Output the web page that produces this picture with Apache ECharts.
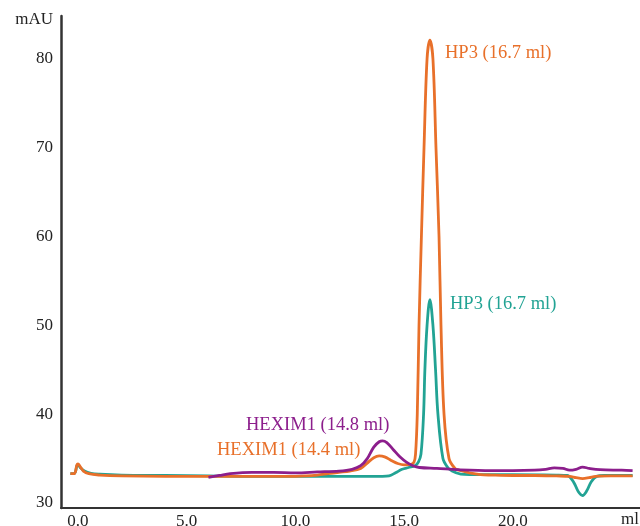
<!DOCTYPE html>
<html>
<head>
<meta charset="utf-8">
<script src="https://cdn.jsdelivr.net/npm/echarts@6/dist/echarts.min.js"></script>
<style>
  html, body { margin: 0; padding: 0; background: #fff; }
  #chart { width: 640px; height: 526px; }
</style>
</head>
<body>
<div id="chart"></div>
<script>
// Elution volume (ml) and absorbance (mAU) for each run
var tealVol = [-0.35, -0.2, -0.12, -0.05, 0.0, 0.1, 0.3, 0.6, 1.0, 2.0, 4.0, 6.0, 8.0, 10.0, 12.0, 14.0, 14.3, 14.6, 14.9, 15.2, 15.5, 15.65, 15.77, 15.89, 15.95, 16.05, 16.18, 16.32, 16.44, 16.55, 16.78, 17.0, 17.2, 17.6, 18.0, 20.0, 22.0, 22.5, 22.8, 23.0, 23.2, 23.4, 23.6, 23.85, 24.2, 25.5];
var tealAbs = [33.3, 33.3, 33.5, 34.2, 34.3, 34.0, 33.6, 33.35, 33.25, 33.15, 33.1, 33.05, 33.0, 33.0, 33.0, 33.0, 33.05, 33.4, 33.8, 34.0, 34.2, 34.6, 35.5, 40.0, 45.0, 50.0, 52.9, 50.0, 45.0, 40.0, 35.0, 34.0, 33.6, 33.25, 33.2, 33.2, 33.15, 33.1, 32.3, 31.3, 30.85, 31.4, 32.4, 33.0, 33.1, 33.1];

var orangeVol = [-0.35, -0.2, -0.12, -0.05, 0.0, 0.1, 0.25, 0.5, 1.0, 2.0, 4.0, 6.0, 8.0, 10.0, 10.5, 11.0, 11.5, 12.0, 12.5, 13.0, 13.3, 13.6, 13.85, 14.1, 14.4, 14.7, 15.0, 15.3, 15.45, 15.52, 15.6, 15.68, 15.79, 15.91, 16.05, 16.18, 16.32, 16.46, 16.6, 16.69, 16.83, 17.06, 17.33, 17.5, 17.7, 18.0, 18.5, 19.0, 20.0, 21.0, 22.0, 22.6, 22.9, 23.2, 23.5, 23.8, 24.5, 25.5];
var orangeAbs = [33.3, 33.3, 33.5, 34.3, 34.4, 34.1, 33.6, 33.3, 33.15, 33.05, 33.0, 33.0, 33.0, 33.0, 33.05, 33.15, 33.3, 33.45, 33.6, 33.9, 34.5, 35.1, 35.3, 35.2, 34.8, 34.45, 34.3, 34.35, 34.6, 35.5, 40.0, 50.0, 60.0, 70.0, 80.0, 82.1, 80.0, 70.0, 60.0, 50.0, 40.0, 35.0, 33.9, 33.7, 33.6, 33.4, 33.2, 33.15, 33.1, 33.1, 33.05, 33.0, 32.85, 32.75, 32.85, 33.0, 33.05, 33.05];

var purpleVol = [6.0, 6.5, 7.0, 8.0, 9.0, 10.0, 11.0, 12.0, 12.6, 13.0, 13.3, 13.6, 13.85, 14.0, 14.2, 14.5, 14.8, 15.1, 15.4, 15.7, 16.5, 17.5, 19.0, 20.0, 21.0, 21.5, 21.9, 22.3, 22.6, 22.9, 23.2, 23.5, 24.0, 25.0, 25.5];
var purpleAbs = [32.9, 33.1, 33.3, 33.45, 33.45, 33.4, 33.5, 33.6, 33.8, 34.2, 35.0, 36.3, 36.9, 37.0, 36.8, 36.0, 35.2, 34.6, 34.2, 34.0, 33.9, 33.75, 33.65, 33.65, 33.7, 33.8, 33.95, 33.9, 33.7, 33.8, 34.05, 33.9, 33.75, 33.7, 33.65];

var yTicks = [30, 40, 50, 60, 70, 80];
var xTicks = [0, 5, 10, 15, 20];

var TEAL = '#22a394';
var ORANGE = '#e8702a';
var PURPLE = '#8c1e8c';
var FONT = '"Liberation Serif", "DejaVu Serif", serif';

function pairs(xs, ys) {
  return xs.map(function (x, i) { return [x, ys[i]]; });
}

function trace(name, color, xs, ys) {
  return {
    name: name,
    type: 'line',
    data: pairs(xs, ys),
    showSymbol: false,
    smooth: 0.35,
    lineStyle: { color: color, width: 2.8 },
    itemStyle: { color: color },
    z: 2
  };
}

function note(text, color, left, cy) {
  return {
    type: 'text',
    left: left,
    top: cy - 10,
    style: { text: text, fill: color, font: '18.5px ' + FONT }
  };
}

var chart = echarts.init(document.getElementById('chart'), null, { renderer: 'canvas' });
chart.setOption({
  animation: false,
  backgroundColor: '#ffffff',
  grid: { left: 61, right: 0, top: 16, bottom: 18, containLabel: false, outerBoundsMode: 'none' },
  xAxis: {
    type: 'value',
    min: -0.78,
    max: 25.84,
    name: 'ml',
    nameLocation: 'end',
    nameGap: -19,
    nameTextStyle: { fontFamily: FONT, fontSize: 17, color: '#222', verticalAlign: 'top', padding: [3, 0, 0, 0] },
    axisLine: { show: true, onZero: false, lineStyle: { color: '#333', width: 2 } },
    axisTick: { show: false },
    splitLine: { show: false },
    axisLabel: {
      customValues: xTicks,
      formatter: function (v) { return v.toFixed(1); },
      fontFamily: FONT, fontSize: 17, color: '#222', margin: 5
    }
  },
  yAxis: {
    type: 'value',
    min: 29.44,
    max: 84.83,
    axisLine: { show: true, onZero: false, lineStyle: { color: '#333', width: 2.5 } },
    axisTick: { show: false },
    splitLine: { show: false },
    axisLabel: {
      customValues: yTicks,
      fontFamily: FONT, fontSize: 17, color: '#222', margin: 8
    }
  },
  graphic: [
    { type: 'text', right: 640 - 53, top: 11, style: { text: 'mAU', fill: '#222', font: '17px ' + FONT } },
    note('HP3 (16.7 ml)', ORANGE, 445, 54),
    note('HP3 (16.7 ml)', TEAL, 450, 305),
    note('HEXIM1 (14.8 ml)', PURPLE, 246, 426),
    note('HEXIM1 (14.4 ml)', ORANGE, 217, 451)
  ],
  series: [
    trace('HP3', TEAL, tealVol, tealAbs),
    trace('HP3 + HEXIM1', ORANGE, orangeVol, orangeAbs),
    trace('HEXIM1', PURPLE, purpleVol, purpleAbs)
  ]
});
</script>
</body>
</html>
